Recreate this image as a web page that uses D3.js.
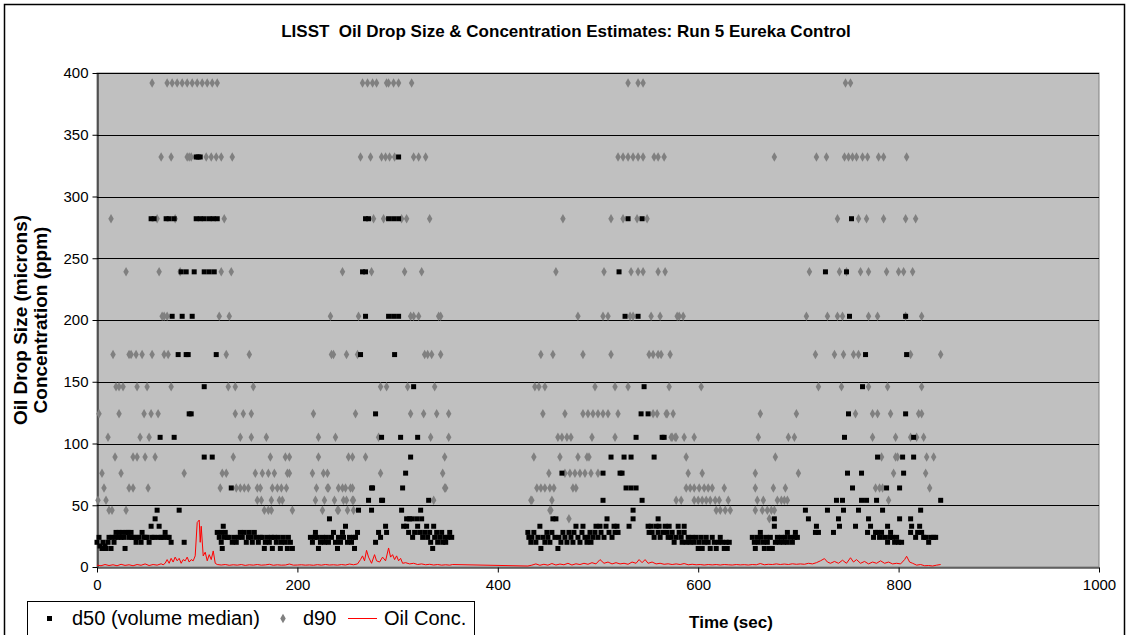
<!DOCTYPE html>
<html>
<head>
<meta charset="utf-8">
<script src="https://cdn.jsdelivr.net/npm/d3@7"></script>
<style>
  html, body { margin: 0; padding: 0; background: #ffffff; }
  svg text { font-family: "Liberation Sans", Arial, sans-serif; }
</style>
</head>
<body>
<div id="chart"></div>
<script>
// Axis ticks
const xTicks = [0, 200, 400, 600, 800, 1000];
const yTicks = [0, 50, 100, 150, 200, 250, 300, 350, 400];

// d50 (volume median), [time sec, size microns]
const d50 = [
  [0,20],[2,24],[3,17],[5,15],[6,20],[8,17],[9,15],[11,20],[12,24],[14,15],[15,24],[17,20],[18,24],[19,28],
  [21,24],[22,28],[24,24],[25,28],[27,24],[28,15],[29,28],[31,28],[32,24],[34,28],[35,24],[37,24],[39,20],
  [40,24],[42,24],[44,20],[45,28],[47,24],[49,24],[50,24],[52,20],[54,33],[54,282],[55,24],[57,282],[57,24],
  [58,39],[60,46],[61,24],[62,33],[63,105],[64,24],[66,24],[68,28],[69,282],[70,24],[72,282],[72,24],[74,20],
  [75,203],[77,282],[77,105],[81,172],[82,46],[84,239],[85,203],[87,20],[89,239],[89,172],[91,172],[92,124],
  [94,124],[95,203],[97,239],[99,282],[99,332],[101,332],[103,332],[103,282],[107,239],[107,146],[107,282],
  [107,89],[112,239],[112,282],[115,89],[116,282],[117,239],[119,172],[120,282],[120,28],[122,24],[124,28],
  [124,20],[125,15],[126,33],[127,24],[128,28],[130,24],[132,24],[134,64],[135,20],[137,24],[139,20],[141,24],
  [143,28],[145,24],[147,28],[149,20],[151,24],[152,28],[154,24],[155,20],[157,28],[159,24],[161,20],[163,24],
  [165,24],[167,15],[168,20],[170,24],[172,20],[174,24],[175,15],[177,24],[179,20],[181,24],[183,15],[184,20],
  [186,24],[188,20],[190,15],[191,24],[193,20],[195,15],
  [213,24],[215,20],[217,24],[218,28],[220,24],[221,15],[223,20],[225,24],[227,20],[229,24],[231,20],[232,39],
  [234,24],[236,28],[238,20],[240,15],[241,24],[243,20],[245,28],[246,24],[248,33],[250,20],[252,24],[254,20],
  [256,24],[257,15],[258,24],[260,28],[261,46],[263,172],[265,239],[268,203],[268,282],[268,239],[271,282],
  [271,54],[274,46],[274,64],[275,64],[278,124],[278,20],[281,28],[283,24],[284,105],[284,54],[285,54],[288,33],
  [289,28],[291,203],[291,282],[296,282],[296,203],[297,172],[301,203],[301,282],[301,332],[303,105],[304,46],
  [305,64],[306,33],[308,76],[309,39],[309,33],[311,28],[312,39],[313,89],[314,39],[315,24],[316,146],[317,28],
  [319,39],[320,105],[320,33],[322,28],[323,46],[324,39],[325,24],[327,28],[329,33],[330,24],[331,54],[332,28],
  [333,20],[335,15],[336,33],[337,24],[339,28],[340,20],[342,24],[344,28],[345,20],[347,24],[348,20],[350,24],
  [352,28],[354,24],
  [430,28],[431,24],[433,20],[434,24],[436,28],[438,20],[440,24],[442,33],[443,15],[445,24],[447,20],[449,28],
  [450,24],[452,20],[454,28],[455,39],[457,24],[458,39],[460,15],[461,24],[463,20],[464,76],[465,28],[467,24],
  [469,20],[471,28],[473,24],[475,20],[476,28],[478,33],[480,24],[482,20],[484,28],[485,33],[487,24],[489,20],
  [490,24],[492,28],[493,20],[495,24],[497,28],[498,33],[500,24],[502,33],[503,28],[505,76],[505,54],[506,24],
  [508,33],[509,39],[511,28],[513,89],[514,24],[516,33],[517,28],[519,33],[520,28],[521,239],[522,76],[524,76],
  [526,89],[527,203],[528,64],[530,282],[531,33],[533,89],[533,64],[535,46],[535,39],[538,64],[538,105],
  [540,203],[543,124],[544,282],[544,54],[546,146],[550,124],[550,33],[551,28],[553,33],[554,28],[556,89],
  [556,24],[558,33],[560,39],[560,28],[561,33],[562,24],[564,105],[565,28],[566,105],[567,33],[569,28],[570,24],
  [571,33],[573,24],[574,28],[576,20],[578,24],[580,33],[581,28],[583,24],[584,20],[586,33],[586,28],[588,20],
  [590,24],[592,20],[594,24],[596,20],[598,24],[600,15],[601,20],[603,24],[604,15],[606,20],[608,24],[610,20],
  [612,15],[614,24],[616,20],[618,15],[620,20],[622,24],[624,20],[626,15],[628,20],[629,15],[631,20],
  [654,24],[656,20],[657,15],[659,24],[660,20],[662,28],[663,24],[665,20],[666,15],[668,24],[669,20],[671,15],
  [672,24],[674,15],[676,39],[676,33],[677,20],[679,24],[681,20],[683,24],[685,20],[687,24],[689,28],[689,20],
  [692,24],[694,20],[696,24],[697,28],[699,24],
  [707,46],[710,39],[717,28],[718,33],[720,28],[727,239],[729,46],[735,28],[738,54],[740,39],[741,33],[744,54],
  [745,46],[746,105],[748,239],[749,76],[750,124],[751,203],[753,282],[754,64],[757,33],[760,46],[763,76],
  [763,54],[764,146],[767,172],[768,54],[769,28],[770,39],[772,33],[775,24],[777,28],[778,54],[779,89],[779,28],
  [781,24],[783,28],[784,46],[786,24],[788,64],[789,33],[789,20],[791,24],[792,28],[794,24],[796,20],[798,24],
  [800,20],[801,39],[801,64],[803,20],[804,89],[805,76],[807,124],[807,203],[808,172],[812,39],[812,28],
  [813,33],[815,89],[815,105],[817,24],[819,28],[821,33],[822,46],[823,28],[825,24],[827,24],[830,20],[832,24],
  [835,24],[837,24],[842,54]
];

// d90, [time sec, size microns]
const d90 = [
  [55,392],[70,392],[75,392],[80,392],[85,392],[90,392],[95,392],[100,392],[105,392],[110,392],[115,392],[120,392],
  [265,392],[270,392],[275,392],[279,392],[289,392],[291,392],[296,392],[301,392],[314,392],[530,392],[540,392],
  [545,392],[747,392],[752,392],
  [64,332],[74,332],[90,332],[92,332],[94,332],[109,332],[114,332],[119,332],[124,332],[135,332],[263,332],
  [273,332],[284,332],[288,332],[292,332],[297,332],[316,332],[321,332],[328,332],[520,332],[525,332],[530,332],
  [535,332],[540,332],[545,332],[556,332],[566,332],[560,332],[676,332],[718,332],[728,332],[746,332],[750,332],
  [754,332],[758,332],[764,332],[769,332],[780,332],[785,332],[808,332],
  [14,282],[60,282],[78,282],[127,282],[276,282],[286,282],[304,282],[309,282],[332,282],[465,282],[513,282],
  [525,282],[539,282],[549,282],[739,282],[760,282],[768,282],[785,282],[807,282],[817,282],
  [29,239],[62,239],[83,239],[124,239],[134,239],[245,239],[274,239],[307,239],[324,239],[458,239],[506,239],
  [533,239],[540,239],[545,239],[560,239],[567,239],[711,239],[741,239],[748,239],[762,239],[770,239],[788,239],
  [800,239],[805,239],[814,239],
  [65,203],[67,203],[70,203],[122,203],[132,203],[233,203],[261,203],[313,203],[316,203],[321,203],[341,203],
  [343,203],[480,203],[505,203],[510,203],[532,203],[535,203],[553,203],[562,203],[579,203],[581,203],[585,203],
  [708,203],[729,203],[739,203],[744,203],[770,203],[779,203],[807,203],[823,203],
  [16,172],[32,172],[34,172],[39,172],[45,172],[55,172],[67,172],[71,172],[129,172],[152,172],[234,172],
  [236,172],[249,172],[260,172],[327,172],[330,172],[334,172],[343,172],[443,172],[455,172],[485,172],[513,172],
  [551,172],[555,172],[560,172],[563,172],[572,172],[717,172],[736,172],[745,172],[755,172],[760,172],[812,172],
  [842,172],
  [19,146],[22,146],[26,146],[40,146],[50,146],[74,146],[131,146],[138,146],[156,146],[283,146],[289,146],
  [310,146],[337,146],[437,146],[441,146],[447,146],[497,146],[517,146],[530,146],[571,146],[603,146],[720,146],
  [743,146],[770,146],[789,146],[823,146],
  [2,124],[22,124],[47,124],[54,124],[61,124],[138,124],[146,124],[154,124],[216,124],[258,124],[313,124],
  [326,124],[339,124],[351,124],[445,124],[467,124],[485,124],[490,124],[495,124],[500,124],[505,124],[510,124],
  [520,124],[555,124],[559,124],[568,124],[575,124],[569,124],[662,124],[698,124],[757,124],[774,124],[779,124],
  [792,124],[820,124],[823,124],
  [11,105],[43,105],[52,105],[143,105],[154,105],[169,105],[221,105],[238,105],[281,105],[333,105],[351,105],
  [460,105],[464,105],[469,105],[473,105],[494,105],[517,105],[573,105],[578,105],[574,105],[577,105],[586,105],
  [596,105],[660,105],[690,105],[696,105],[774,105],[797,105],[812,105],[818,105],[825,105],
  [18,89],[36,89],[40,89],[48,89],[58,89],[136,89],[173,89],[188,89],[192,89],[221,89],[251,89],[255,89],
  [268,89],[347,89],[436,89],[462,89],[480,89],[489,89],[491,89],[588,89],[677,89],[783,89],[797,89],[799,89],
  [828,89],[835,89],
  [5,76],[24,76],[87,76],[125,76],[129,76],[158,76],[165,76],[171,76],[177,76],[190,76],[192,76],[215,76],
  [226,76],[230,76],[283,76],[345,76],[451,76],[467,76],[472,76],[477,76],[482,76],[487,76],[493,76],[500,76],
  [590,76],[604,76],[657,76],[700,76],[795,76],[827,76],
  [7,64],[32,64],[36,64],[51,64],[123,64],[139,64],[143,64],[147,64],[151,64],[160,64],[163,64],[175,64],
  [180,64],[184,64],[189,64],[219,64],[230,64],[231,64],[241,64],[245,64],[248,64],[253,64],[255,64],[347,64],
  [348,64],[439,64],[443,64],[447,64],[452,64],[456,64],[475,64],[478,64],[588,64],[592,64],[596,64],[601,64],
  [606,64],[610,64],[614,64],[626,64],[657,64],[675,64],[687,64],[777,64],[781,64],[784,64],[831,64],
  [1,54],[9,54],[160,54],[164,54],[174,54],[182,54],[185,54],[218,54],[227,54],[237,54],[246,54],[249,54],
  [255,54],[256,54],[336,54],[433,54],[434,54],[454,54],[578,54],[583,54],[596,54],[600,54],[604,54],[608,54],
  [612,54],[617,54],[621,54],[630,54],[659,54],[665,54],[679,54],[683,54],[686,54],[689,54],[790,54],
  [12,46],[15,46],[29,46],[167,46],[171,46],[174,46],[195,46],[225,46],[240,46],[241,46],[250,46],[256,46],
  [452,46],[453,46],[618,46],[622,46],[627,46],[632,46],[657,46],[664,46],[669,46],[673,46],[676,46],
  [471,39],[671,39]
];

// Oil concentration, [time sec, ppm]
const oilConc = [
  [0,1.5],[4,1],[8,2],[12,1.2],[16,1.8],[20,1],[24,2.2],[28,1.3],[32,1.8],[36,1],[40,2],[44,1.4],[48,2.5],
  [52,1.2],[56,2],[60,1.5],[64,2.6],[66,1.8],[68,3],[70,6],[72,3],[74,7],[76,4],[78,8],[80,5],[82,7],[84,3],
  [86,6],[88,5],[90,8],[92,4],[94,6],[96,5],[98,9],[100,36],[102,38],[103,20],[104,33],[106,9],[108,12],[110,5],
  [112,10],[114,6],[116,13],[118,3],[120,2],[124,1.6],[128,2],[132,1.4],[136,1.8],[140,1.5],[144,2],[148,1.3],
  [152,1.8],[156,1.5],[160,2],[164,1.5],[168,1.7],[172,2.2],[176,1.4],[180,1.8],[184,1.5],[188,1.6],[192,2.4],
  [196,1.5],[200,1.6],[204,1.8],[208,1.5],[212,1.7],[216,1.4],[220,1.9],[224,1.5],[228,2],[232,1.6],[236,1.8],
  [240,1.5],[244,2],[248,1.6],[252,2.4],[256,1.8],[260,2.5],[263,6],[265,9],[267,5],[269,13.5],[271,8],[274,3],
  [277,10],[279,5],[282,4],[285,8],[288,5],[291,15.4],[293,8],[295,10],[297,6],[299,9],[301,5],[303,7],[305,3],
  [308,3.5],[312,2.5],[316,3],[320,2],[324,2.5],[328,1.8],[332,2.2],[336,1.6],[340,2],[344,1.5],[348,1.8],
  [352,1.5],[355,2],[430,0.8],[434,1.5],[438,2.5],[442,1.4],[446,2.2],[450,1.5],[454,2.8],[458,1.6],[462,2.4],
  [466,1.8],[470,3],[474,1.6],[478,2.6],[482,2],[486,3],[490,2.2],[494,3.5],[498,2.5],[502,6],[506,3],[510,4],
  [514,2.5],[518,3.5],[522,2.5],[526,3],[530,2.2],[534,4],[538,3],[541,6],[544,3.5],[547,6],[550,3],[554,4],
  [558,2.5],[562,3],[566,2.2],[570,2.6],[574,2],[578,2.5],[582,2],[586,2.8],[590,1.8],[594,2.2],[598,1.8],
  [602,2],[606,1.6],[610,2],[614,1.7],[618,2],[622,1.6],[626,2],[630,1.8],[634,1.6],[638,2],[642,1.7],[646,1.9],
  [650,1.6],[654,2],[658,1.8],[662,2.8],[666,1.8],[670,2.2],[674,2],[678,2.5],[682,2],[686,2.4],[690,2],
  [694,2.6],[698,2.2],[702,2.5],[706,2.2],[710,3],[714,2.5],[718,3.5],[722,5],[726,6.8],[729,4],[732,3],
  [736,4.5],[740,3],[744,5.5],[748,3],[752,7.5],[755,4],[758,6],[762,3],[766,4.5],[770,2.5],[774,4],[778,3],
  [782,5],[786,3],[790,4],[794,2.5],[798,3],[802,2.5],[806,6],[808,8.7],[811,4],[814,3],[818,1.5],[822,2],
  [826,1],[830,1.2],[834,0.8],[838,1.5],[842,2]
];

const width = 1135;
const height = 635;
const margin = { top: 73, right: 33, bottom: 68, left: 97 };

const svg = d3
  .select("#chart")
  .append("svg")
  .attr("width", width)
  .attr("height", height);

// chart area border
svg
  .append("rect")
  .attr("x", 4.5)
  .attr("y", 4.5)
  .attr("width", 1120)
  .attr("height", height + 20)
  .attr("fill", "#ffffff")
  .attr("stroke", "#000000")
  .attr("stroke-width", 1.5);

const xScale = d3
  .scaleLinear()
  .domain([0, 1000])
  .range([margin.left, width - margin.right - 3]);

const yScale = d3
  .scaleLinear()
  .domain([0, 400])
  .range([height - margin.bottom, margin.top]);

const x0 = xScale(0), x1 = xScale(1000);
const y0 = yScale(0), y1 = yScale(400);

// plot area
svg
  .append("rect")
  .attr("x", x0)
  .attr("y", y1)
  .attr("width", x1 - x0)
  .attr("height", y0 - y1)
  .attr("fill", "#c0c0c0")
  .attr("stroke", "#808080")
  .attr("stroke-width", 1);

// horizontal grid lines
svg
  .append("g")
  .selectAll("line")
  .data(yTicks.filter((d) => d > 0))
  .enter()
  .append("line")
  .attr("x1", x0)
  .attr("x2", x1)
  .attr("y1", (d) => Math.round(yScale(d)) + 0.5)
  .attr("y2", (d) => Math.round(yScale(d)) + 0.5)
  .attr("stroke", "#000000")
  .attr("stroke-width", 1);

// Y axis
const yAxis = svg
  .append("g")
  .attr("transform", `translate(${Math.round(x0) + 0.5},0)`)
  .call(d3.axisLeft(yScale).tickValues(yTicks).tickSize(5).tickSizeOuter(0));
yAxis.select(".domain").attr("stroke", "#000000");
yAxis.selectAll("line").attr("stroke", "#000000");
yAxis
  .selectAll("text")
  .attr("font-size", "15px")
  .attr("fill", "#000000")
  .attr("x", -9);

// X axis
const xAxis = svg
  .append("g")
  .attr("transform", `translate(0,${Math.round(y0) + 0.5})`)
  .call(
    d3
      .axisBottom(xScale)
      .tickValues(xTicks)
      .tickFormat(d3.format("d"))
      .tickSize(5)
      .tickSizeOuter(0)
  );
xAxis.select(".domain").attr("stroke", "#000000");
xAxis.selectAll("line").attr("stroke", "#000000");
xAxis
  .selectAll("text")
  .attr("font-size", "15px")
  .attr("fill", "#000000")
  .attr("y", 12);

// Oil concentration line
svg
  .append("path")
  .datum(oilConc)
  .attr("fill", "none")
  .attr("stroke", "#ff0000")
  .attr("stroke-width", 1)
  .attr("d", d3.line().x((d) => xScale(d[0])).y((d) => yScale(d[1])));

// d90 diamonds
const diamond = d3.symbol().type(d3.symbolDiamond).size(26);
svg
  .append("g")
  .selectAll("path")
  .data(d90)
  .enter()
  .append("path")
  .attr("d", diamond)
  .attr("transform", (d) => `translate(${xScale(d[0])},${yScale(d[1])})`)
  .attr("fill", "#808080");

// d50 squares
svg
  .append("g")
  .selectAll("rect")
  .data(d50)
  .enter()
  .append("rect")
  .attr("x", (d) => xScale(d[0]) - 2.5)
  .attr("y", (d) => yScale(d[1]) - 2.5)
  .attr("width", 5)
  .attr("height", 5)
  .attr("fill", "#000000");

// Title
svg
  .append("text")
  .attr("x", 566)
  .attr("y", 37)
  .attr("text-anchor", "middle")
  .attr("font-size", "17px")
  .attr("font-weight", "bold")
  .style("white-space", "pre")
  .text("LISST  Oil Drop Size & Concentration Estimates: Run 5 Eureka Control");

// Y axis title (two lines)
const yTitle = svg
  .append("text")
  .attr("transform", `translate(27,${(y0 + y1) / 2}) rotate(-90)`)
  .attr("text-anchor", "middle")
  .attr("font-size", "19px")
  .attr("font-weight", "bold");
yTitle.append("tspan").attr("x", 0).attr("dy", 0).text("Oil Drop Size (microns)");
yTitle.append("tspan").attr("x", 0).attr("dy", 20).text("Concentration (ppm)");

// X axis title
svg
  .append("text")
  .attr("x", 731)
  .attr("y", 628)
  .attr("text-anchor", "middle")
  .attr("font-size", "17px")
  .attr("font-weight", "bold")
  .text("Time (sec)");

// Legend
const legend = svg.append("g").attr("transform", "translate(27,601)");
legend
  .append("rect")
  .attr("x", 0.5)
  .attr("y", 0.5)
  .attr("width", 447)
  .attr("height", 40)
  .attr("fill", "#ffffff")
  .attr("stroke", "#000000");
legend
  .append("rect")
  .attr("x", 20)
  .attr("y", 15)
  .attr("width", 5)
  .attr("height", 5)
  .attr("fill", "#000000");
legend
  .append("text")
  .attr("x", 45)
  .attr("y", 24)
  .attr("font-size", "20px")
  .text("d50 (volume median)");
legend
  .append("path")
  .attr("d", diamond)
  .attr("transform", "translate(256,17.5)")
  .attr("fill", "#808080");
legend
  .append("text")
  .attr("x", 276)
  .attr("y", 24)
  .attr("font-size", "20px")
  .text("d90");
legend
  .append("line")
  .attr("x1", 321)
  .attr("x2", 350)
  .attr("y1", 17.5)
  .attr("y2", 17.5)
  .attr("stroke", "#ff0000")
  .attr("stroke-width", 1);
legend
  .append("text")
  .attr("x", 357)
  .attr("y", 24)
  .attr("font-size", "20px")
  .text("Oil Conc.");
</script>
</body>
</html>
